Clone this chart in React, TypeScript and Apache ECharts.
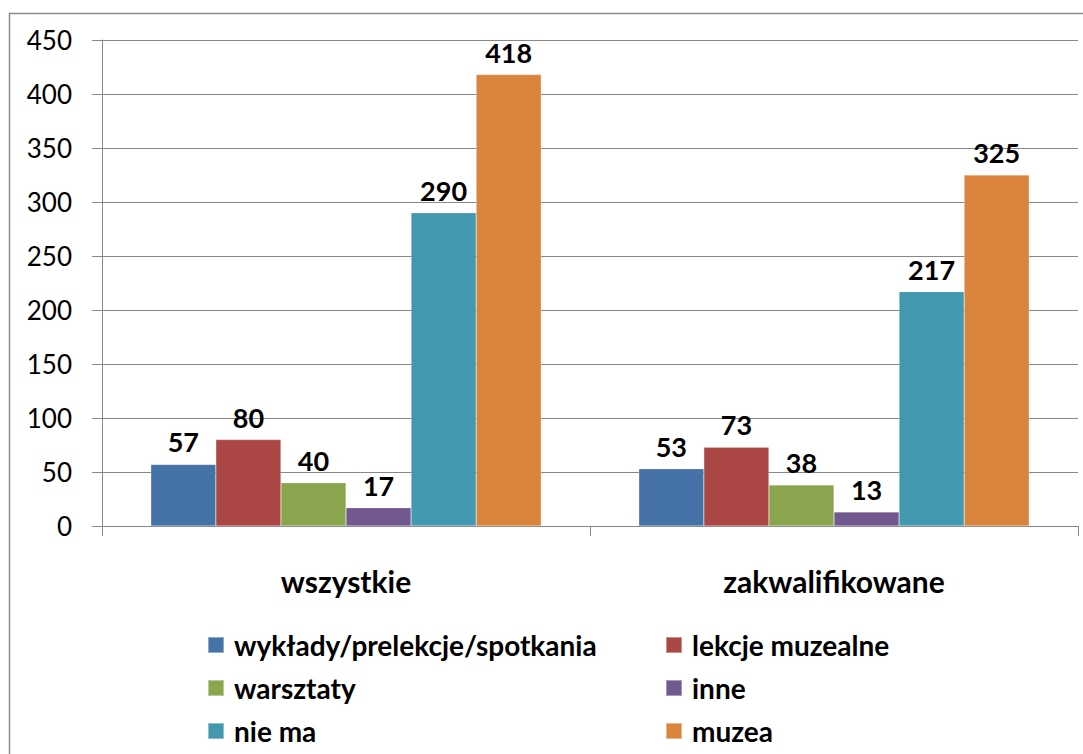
import React, { useEffect, useRef } from "react";
import * as echarts from "echarts";

const categories = ["wszystkie", "zakwalifikowane"];
const seriesNames = [
  "wykłady/prelekcje/spotkania",
  "lekcje muzealne",
  "warsztaty",
  "inne",
  "nie ma",
  "muzea",
];
const wyklady = [57, 53];
const lekcje = [80, 73];
const warsztaty = [40, 38];
const inne = [17, 13];
const nieMa = [290, 217];
const muzea = [418, 325];
const colors = ["#4572A7", "#AA4643", "#89A54E", "#71588F", "#4198AF", "#DB843D"];

const FONT = "Lato, 'Liberation Sans', sans-serif";

export default function App() {
  const ref = useRef<HTMLDivElement>(null);
  useEffect(() => {
    if (!ref.current) return;
    const chart = echarts.init(ref.current, null, { renderer: "svg" });
    const values = [wyklady, lekcje, warsztaty, inne, nieMa, muzea];
    const legendText = {
      fontFamily: FONT,
      fontSize: 28,
      fontWeight: "bold",
      color: "#000",
      lineHeight: 28,
      padding: [0, 0, 0, 5],
    };
    chart.setOption({
      animation: false,
      backgroundColor: "#ffffff",
      textStyle: { fontFamily: FONT },
      graphic: [
        {
          type: "rect",
          shape: { x: 9.5, y: 13.5, width: 1200, height: 900 },
          style: { fill: "none", stroke: "#8c8c8c", lineWidth: 1.5 },
          silent: true,
        },
      ],
      grid: { left: 102, right: 5, top: 40, bottom: 228 },
      legend: [
        {
          orient: "vertical",
          left: 202,
          top: 626,
          itemWidth: 16,
          itemHeight: 16,
          itemGap: 15,
          icon: "rect",
          data: [seriesNames[0], seriesNames[2], seriesNames[4]],
          textStyle: legendText,
        },
        {
          orient: "vertical",
          left: 660,
          top: 626,
          itemWidth: 16,
          itemHeight: 16,
          itemGap: 15,
          icon: "rect",
          data: [seriesNames[1], seriesNames[3], seriesNames[5]],
          textStyle: legendText,
        },
      ],
      xAxis: {
        type: "category",
        data: categories,
        axisLine: { lineStyle: { color: "#888888", width: 1 } },
        axisTick: { show: true, length: 10, lineStyle: { color: "#888888" } },
        axisLabel: {
          margin: 40,
          fontFamily: FONT,
          fontSize: 30,
          fontWeight: "bold",
          color: "#000",
        },
      },
      yAxis: {
        type: "value",
        min: 0,
        max: 450,
        interval: 50,
        axisLine: { show: true, lineStyle: { color: "#888888", width: 1 } },
        axisTick: { show: true, length: 10, lineStyle: { color: "#888888" } },
        splitLine: { lineStyle: { color: "#888888", width: 1 } },
        axisLabel: {
          margin: 30,
          fontFamily: FONT,
          fontSize: 26,
          color: "#000",
        },
      },
      series: seriesNames.map((name, i) => ({
        name,
        type: "bar",
        data: values[i],
        barGap: "0%",
        barCategoryGap: "20%",
        itemStyle: { color: colors[i], borderColor: "rgba(255,255,255,0.4)", borderWidth: 0.5 },
        label: {
          show: true,
          position: "top",
          distance: 9,
          fontFamily: FONT,
          fontSize: 27,
          fontWeight: "bold",
          color: "#000",
        },
      })),
    });
    return () => chart.dispose();
  }, []);
  return (
    <div
      ref={ref}
      style={{ position: "fixed", left: 0, top: 0, width: 1083, height: 754 }}
    />
  );
}
